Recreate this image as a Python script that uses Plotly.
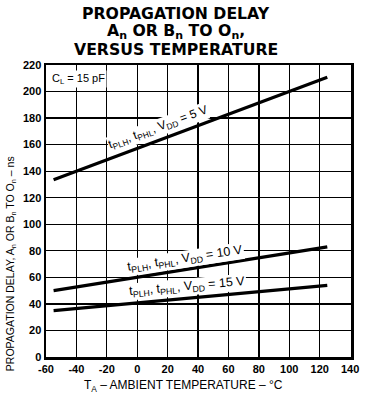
import plotly.graph_objects as go

# Data
temp = [-55, 125]
delay_5v = [133.6, 210.7]
delay_10v = [50, 83]
delay_15v = [35, 54]

x_ticks = [-60, -40, -20, 0, 20, 40, 60, 80, 100, 120, 140]
y_ticks = [0, 20, 40, 60, 80, 100, 120, 140, 160, 180, 200, 220]

title_lines = [
    "PROPAGATION DELAY",
    "A<sub>n</sub> OR B<sub>n</sub> TO O<sub>n</sub>,",
    "VERSUS TEMPERATURE",
]

FONT = "Liberation Sans, Arial, Helvetica, sans-serif"
TFONT = "DejaVu Sans, Liberation Sans, Arial, sans-serif"

fig = go.Figure()
for ys in (delay_5v, delay_10v, delay_15v):
    fig.add_trace(go.Scatter(x=temp, y=ys, mode="lines",
                             line=dict(color="black", width=3.2),
                             showlegend=False, hoverinfo="skip"))

fig.update_layout(
    width=370, height=398,
    margin=dict(l=46, r=11, t=65, b=41),
    paper_bgcolor="white", plot_bgcolor="white",
    font=dict(family=FONT, color="black"),
    showlegend=False,
)

fig.update_xaxes(
    range=[-60, 140.6], tickvals=x_ticks, ticktext=[str(v) for v in x_ticks],
    showgrid=True, gridcolor="black", gridwidth=1.3,
    showline=True, linecolor="black", linewidth=2.5, mirror=True,
    ticks="", zeroline=False,
    tickfont=dict(family=FONT, size=11, color="black", weight="bold"),
)
fig.update_yaxes(
    range=[0, 220], tickvals=y_ticks, ticktext=[str(v) for v in y_ticks],
    showgrid=True, gridcolor="black", gridwidth=1.3,
    showline=True, linecolor="black", linewidth=2.5, mirror=True,
    ticks="", zeroline=False,
    tickfont=dict(family=FONT, size=11, color="black", weight="bold"),
)

# Title (three separate lines for tight spacing)
for i, t in enumerate(title_lines):
    fig.add_annotation(
        text=t, xref="paper", yref="paper", x=0.425, y=1.0,
        yshift=51.5 - i * 17.8, xanchor="center", yanchor="middle",
        showarrow=False,
        font=dict(family=TFONT, size=15.7, color="black", weight="bold"),
    )

# Axis titles
fig.add_annotation(
    text="T<sub>A</sub> – AMBIENT TEMPERATURE – °C",
    xref="paper", yref="paper", x=0.452, y=0, yshift=-19, xanchor="center", yanchor="top",
    showarrow=False, font=dict(family=FONT, size=12, color="black"),
)
fig.add_annotation(
    text="PROPAGATION DELAY, A<sub>n</sub> OR B<sub>n</sub> TO O<sub>n</sub> – ns",
    xref="paper", yref="paper", x=0, xshift=-35, y=0.318, textangle=-90,
    xanchor="center", yanchor="middle",
    showarrow=False, font=dict(family=FONT, size=10.5, color="black"),
)

# C_L label
fig.add_annotation(
    text="C<sub>L</sub> = 15 pF", x=-60, y=216, xanchor="left", yanchor="top",
    xshift=4, showarrow=False, bgcolor="white",
    font=dict(family=FONT, size=11, color="black"),
)

# Line labels (white background breaks the grid behind the text)
def on_line(xs, ys, x):
    return ys[0] + (ys[1] - ys[0]) * (x - xs[0]) / (xs[1] - xs[0])

lab5 = 16
fig.add_annotation(text="t<sub>PLH</sub>, t<sub>PHL</sub>, V<sub>DD</sub> = 5 V",
                   x=lab5, y=on_line(temp, delay_5v, lab5), yshift=11, xshift=-4,
                   textangle=-20, showarrow=False, bgcolor="white", borderpad=0,
                   font=dict(family=FONT, size=12, color="black"))
lab10 = 32
fig.add_annotation(text="t<sub>PLH</sub>, t<sub>PHL</sub>, V<sub>DD</sub> = 10 V",
                   x=lab10, y=on_line(temp, delay_10v, lab10), yshift=10,
                   textangle=-8.5, showarrow=False, bgcolor="white", borderpad=0,
                   font=dict(family=FONT, size=12.5, color="black"))
lab15 = 33
fig.add_annotation(text="t<sub>PLH</sub>, t<sub>PHL</sub>, V<sub>DD</sub> = 15 V",
                   x=lab15, y=on_line(temp, delay_15v, lab15), yshift=11,
                   textangle=-5, showarrow=False, bgcolor="white", borderpad=0,
                   font=dict(family=FONT, size=12.5, color="black"))

fig.write_html("out.html",
               config={"displayModeBar": False, "staticPlot": True},
               post_script="document.body.style.margin='0';document.body.style.overflow='hidden';")
